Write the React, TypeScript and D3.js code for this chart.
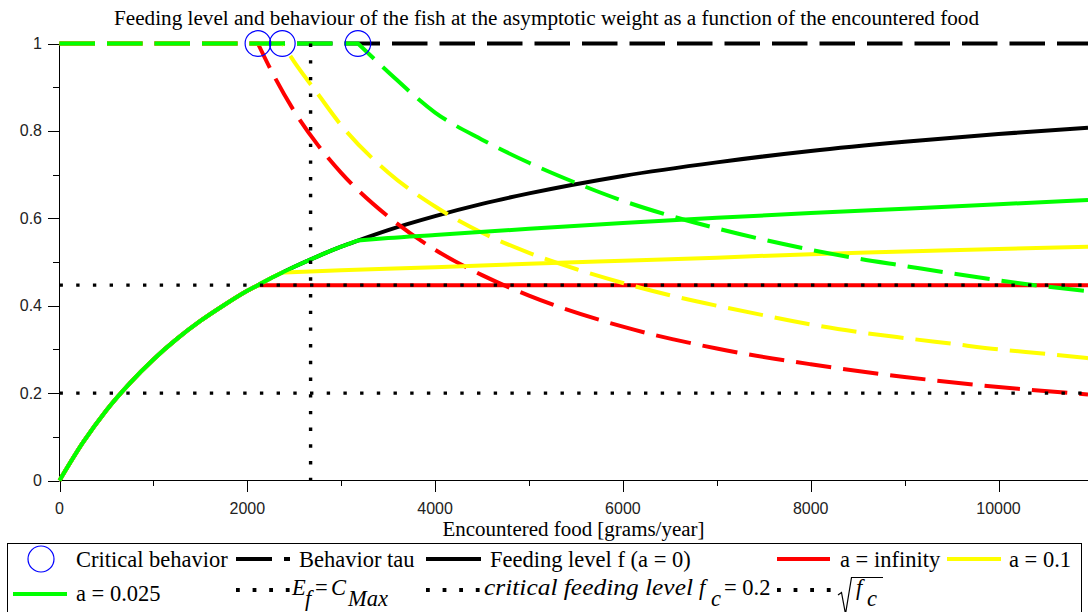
import React from 'react';
import * as d3 from 'd3';

// ---------- data ----------
const xMax = 10953;
const xTicksMajor = [0, 2000, 4000, 6000, 8000, 10000];
const xTicksMinor = [1000, 3000, 5000, 7000, 9000];
const yTicksMajor = [0, 0.2, 0.4, 0.6, 0.8, 1];
const yTickLabels = ['0', '0.2', '0.4', '0.6', '0.8', '1'];
const yTicksMinor = [0.1, 0.3, 0.5, 0.7, 0.9];

// Feeding level f (a = 0)
const feedE = [0, 250, 500, 750, 1000, 1250, 1500, 1750, 2000, 2113, 2250, 2373, 2500, 2750, 3000, 3178, 3500, 4000, 4500, 5000, 6000, 7000, 8000, 9000, 10000, 10953];
const feedF = [0, 0.087, 0.161, 0.223, 0.277, 0.324, 0.365, 0.401, 0.434, 0.447, 0.463, 0.476, 0.489, 0.513, 0.535, 0.549, 0.573, 0.605, 0.633, 0.657, 0.697, 0.728, 0.754, 0.775, 0.793, 0.807];

// Critical behaviour points
const criticalE = [2113, 2373, 3178];
const criticalTau = [1, 1, 1];

// Feeding level tails after the critical point
const redFeedE = [2113, 10953];
const redFeedF = [0.447, 0.447];
const yellowFeedE = [2373, 3000, 4000, 5000, 6000, 7000, 8000, 9000, 10000, 10953];
const yellowFeedF = [0.476, 0.481, 0.488, 0.496, 0.503, 0.51, 0.518, 0.524, 0.53, 0.535];
const greenFeedE = [3178, 3500, 4000, 5000, 6000, 7000, 8000, 9000, 10000, 10953];
const greenFeedF = [0.549, 0.555, 0.562, 0.576, 0.589, 0.601, 0.612, 0.622, 0.632, 0.642];

// Behaviour tau
const behaviourE = [0, 10953];
const behaviourTau = [1, 1];
const redTauE = [2113, 2250, 2500, 2750, 3000, 3500, 4000, 4500, 5000, 6000, 7000, 8000, 9000, 10000, 10953];
const redTau = [1, 0.94, 0.845, 0.768, 0.704, 0.604, 0.528, 0.47, 0.423, 0.352, 0.302, 0.266, 0.237, 0.214, 0.197];
const yellowTauE = [2373, 2500, 2750, 3000, 3500, 4000, 4500, 5000, 5500, 6000, 6500, 7000, 7500, 8000, 8500, 9000, 9500, 10000, 10500, 10953];
const yellowTau = [1, 0.958, 0.885, 0.813, 0.705, 0.627, 0.567, 0.521, 0.484, 0.452, 0.424, 0.4, 0.378, 0.357, 0.34, 0.326, 0.313, 0.3, 0.29, 0.28];
const greenTauE = [3178, 3500, 4000, 4500, 5000, 5500, 6000, 6500, 7000, 7500, 8000, 8500, 9000, 9500, 10000, 10500, 10953];
const greenTau = [1, 0.935, 0.842, 0.78, 0.727, 0.681, 0.64, 0.606, 0.577, 0.551, 0.528, 0.508, 0.491, 0.474, 0.458, 0.444, 0.433];

// Reference levels
const cMaxE = 2674;
const fCritical = 0.2;
const sqrtFc = 0.447;

// ---------- scales ----------
const x = d3.scaleLinear().domain([0, xMax]).range([59.5, 1088]);
const y = d3.scaleLinear().domain([0, 1]).range([480.5, 43.5]);

type P = [number, number];
const zip = (a: number[], b: number[]): P[] => a.map((v, i) => [v, b[i]] as P);
const smooth = d3.line<P>().x(d => x(d[0])).y(d => y(d[1])).curve(d3.curveMonotoneX);
const straight = d3.line<P>().x(d => x(d[0])).y(d => y(d[1]));

// join two pieces with a sharp kink, keeping one path for dash continuity
const joined = (head: P[], tail: P[]) => {
  const h = smooth(head) || '';
  const t = (smooth(tail) || '').replace(/^M/, 'L');
  return h + t;
};
const feedPts = zip(feedE, feedF);
const feedWith = (tE: number[], tF: number[]) =>
  joined(feedPts.filter(p => p[0] <= tE[0]).map(p => (p[0] === tE[0] ? [p[0], tF[0]] as P : p)), zip(tE, tF));
const tauWith = (tE: number[], tT: number[]) => joined([[0, 1], [tE[0], tT[0]]], zip(tE, tT));

const DASH = '35.5 12';
const DOT = '3.4 13.3';
const LW = 4;

const serif = '"Liberation Serif", "Times New Roman", serif';
const sans = '"Liberation Sans", Arial, sans-serif';

export default function App() {
  const r1 = 559; // legend row 1 line y
  const r2 = 594; // row 2 plain sample
  const rm = 590; // row 2 math samples
  const b1 = 567; // baselines
  const b2 = 601;
  const bm = 595; // math baseline (raised)
  const bs = 606; // math subscript baseline
  const fs = 22.5;
  return (
    <svg width={1088} height={612} style={{ position: 'absolute', left: 0, top: 0, background: '#fff' }}>
      <rect x={0} y={0} width={1088} height={612} fill="#fff" />
      {/* title */}
      <text x={546.5} y={25} textAnchor="middle" fontFamily={serif} fontSize={20} textLength={865} lengthAdjust="spacingAndGlyphs">
        Feeding level and behaviour of the fish at the asymptotic weight as a function of the encountered food
      </text>

      {/* axes */}
      <line x1={59.5} x2={59.5} y1={43.5} y2={480.5} stroke="#000" />
      <line x1={59.5} x2={1088} y1={480.5} y2={480.5} stroke="#000" />
      {xTicksMajor.map(t => (
        <g key={'xm' + t}>
          <line x1={Math.round(x(t)) + 0.5} x2={Math.round(x(t)) + 0.5} y1={480.5} y2={492} stroke="#000" />
          <text x={x(t)} y={514} textAnchor="middle" fontFamily={sans} fontSize={16} fill="#222">{t}</text>
        </g>
      ))}
      {xTicksMinor.map(t => (
        <line key={'xn' + t} x1={Math.round(x(t)) + 0.5} x2={Math.round(x(t)) + 0.5} y1={480.5} y2={486} stroke="#000" />
      ))}
      {yTicksMajor.map((t, i) => (
        <g key={'ym' + t}>
          <line x1={48} x2={59.5} y1={Math.round(y(t)) + 0.5} y2={Math.round(y(t)) + 0.5} stroke="#000" />
          <text x={42} y={y(t) + 5.5} textAnchor="end" fontFamily={sans} fontSize={16} fill="#222">{yTickLabels[i]}</text>
        </g>
      ))}
      {yTicksMinor.map(t => (
        <line key={'yn' + t} x1={53} x2={59.5} y1={Math.round(y(t)) + 0.5} y2={Math.round(y(t)) + 0.5} stroke="#000" />
      ))}
      <text x={573.5} y={536} textAnchor="middle" fontFamily={serif} fontSize={20} textLength={262} lengthAdjust="spacingAndGlyphs">
        Encountered food [grams/year]
      </text>

      {/* behaviour tau (a = 0) */}
      <path d={straight(zip(behaviourE, behaviourTau)) || ''} fill="none" stroke="#000" strokeWidth={LW} strokeDasharray={DASH} />
      {/* feeding level a = 0 */}
      <path d={smooth(feedPts) || ''} fill="none" stroke="#000" strokeWidth={LW} />
      {/* a = infinity */}
      <path d={feedWith(redFeedE, redFeedF)} fill="none" stroke="#ff0000" strokeWidth={LW} />
      <path d={tauWith(redTauE, redTau)} fill="none" stroke="#ff0000" strokeWidth={LW} strokeDasharray={DASH} />
      {/* a = 0.1 */}
      <path d={feedWith(yellowFeedE, yellowFeedF)} fill="none" stroke="#ffff00" strokeWidth={LW} />
      <path d={tauWith(yellowTauE, yellowTau)} fill="none" stroke="#ffff00" strokeWidth={LW} strokeDasharray={DASH} />
      {/* a = 0.025 */}
      <path d={feedWith(greenFeedE, greenFeedF)} fill="none" stroke="#00ff00" strokeWidth={LW} />
      <path d={tauWith(greenTauE, greenTau)} fill="none" stroke="#00ff00" strokeWidth={LW} strokeDasharray={DASH} />

      {/* reference dotted lines */}
      <path d={straight([[cMaxE, 1], [cMaxE, 0]]) || ''} fill="none" stroke="#000" strokeWidth={3.4} strokeDasharray={DOT} />
      <path d={straight([[0, fCritical], [xMax, fCritical]]) || ''} fill="none" stroke="#000" strokeWidth={3.4} strokeDasharray={DOT} />
      <path d={straight([[0, sqrtFc], [xMax, sqrtFc]]) || ''} fill="none" stroke="#000" strokeWidth={3.4} strokeDasharray={DOT} />

      {/* critical behaviour circles */}
      {criticalE.map((e, i) => (
        <circle key={'c' + i} cx={x(e)} cy={y(criticalTau[i])} r={12.8} fill="none" stroke="#0000ff" strokeWidth={1.2} />
      ))}

      {/* legend */}
      <rect x={7.5} y={543.5} width={1074} height={100} fill="none" stroke="#000" />
      <g fontFamily={serif} fontSize={fs} fill="#000">
        <circle cx={41} cy={r1} r={13} fill="none" stroke="#0000ff" strokeWidth={1.2} />
        <text x={76} y={b1}>Critical behavior</text>
        <line x1={236} x2={290} y1={r1} y2={r1} stroke="#000" strokeWidth={LW} strokeDasharray="36 12" />
        <text x={299} y={b1}>Behavior tau</text>
        <line x1={426} x2={481} y1={r1} y2={r1} stroke="#000" strokeWidth={LW} />
        <text x={490} y={b1}>Feeding level f (a = 0)</text>
        <line x1={777} x2={830} y1={r1} y2={r1} stroke="#ff0000" strokeWidth={LW} />
        <text x={840} y={b1}>a = infinity</text>
        <line x1={947} x2={1001} y1={r1} y2={r1} stroke="#ffff00" strokeWidth={LW} />
        <text x={1009} y={b1}>a = 0.1</text>

        <line x1={13} x2={67} y1={r2} y2={r2} stroke="#00ff00" strokeWidth={LW} />
        <text x={76} y={b2}>a = 0.025</text>
        <line x1={236} x2={292} y1={rm} y2={rm} stroke="#000" strokeWidth={3.8} strokeDasharray="3.8 12.8" />
        <text x={292} y={bm} fontStyle="italic">E</text>
        <text x={305} y={bs} fontStyle="italic">f</text>
        <text x={315} y={bm}>=</text>
        <text x={331} y={bm} fontStyle="italic">C</text>
        <text x={348} y={bs} fontStyle="italic">Max</text>
        <line x1={426} x2={482} y1={rm} y2={rm} stroke="#000" strokeWidth={3.8} strokeDasharray="3.8 12.8" />
        <text x={484} y={bm} fontStyle="italic" textLength={209} lengthAdjust="spacingAndGlyphs">critical feeding level</text>
        <text x={699} y={bm} fontStyle="italic">f</text>
        <text x={711} y={bs} fontStyle="italic">c</text>
        <text x={724} y={bm}>= 0.2</text>
        <line x1={777} x2={833} y1={rm} y2={rm} stroke="#000" strokeWidth={3.8} strokeDasharray="3.8 12.8" />
        <path d="M838,595 L841.5,592.5 L845.5,614 L851.5,577.5 L883,577.5" fill="none" stroke="#000" strokeWidth={1.2} />
        <text x={856} y={bm} fontStyle="italic">f</text>
        <text x={867} y={bs} fontStyle="italic">c</text>
      </g>
    </svg>
  );
}
